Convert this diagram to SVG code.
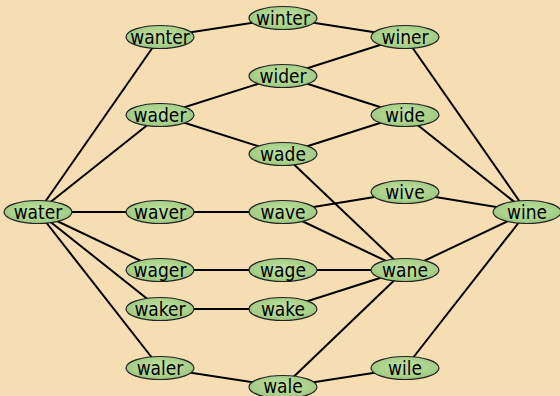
<svg xmlns="http://www.w3.org/2000/svg" width="560" height="396" viewBox="0 0 560 396">
  <defs>
    <radialGradient id="nodeFill" cx="50%" cy="45%" r="60%">
      <stop offset="0%" stop-color="#bfe0a0"/>
      <stop offset="70%" stop-color="#a8d08a"/>
      <stop offset="100%" stop-color="#92bd76"/>
    </radialGradient>
  </defs>
  <style>
    .node ellipse { fill: url(#nodeFill); stroke: #222; stroke-width: 1.2; }
    .node text { font-family: "DejaVu Sans Condensed", "DejaVu Sans", sans-serif; font-stretch: condensed; font-size: 19px; fill: #000; text-anchor: middle; dominant-baseline: central; }
    #edges line { stroke: #000; stroke-width: 2; }
  </style>
  <rect width="560" height="396" fill="#f5deb3"/>
  <g id="edges">
    <line x1="38" y1="212" x2="160" y2="37"/>
    <line x1="38" y1="212" x2="160" y2="115"/>
    <line x1="38" y1="212" x2="160" y2="212"/>
    <line x1="38" y1="212" x2="160" y2="270"/>
    <line x1="38" y1="212" x2="160" y2="309"/>
    <line x1="38" y1="212" x2="160" y2="368"/>
    <line x1="160" y1="37" x2="283" y2="18"/>
    <line x1="283" y1="18" x2="405" y2="37"/>
    <line x1="283" y1="76" x2="405" y2="37"/>
    <line x1="405" y1="37" x2="527" y2="212"/>
    <line x1="160" y1="115" x2="283" y2="76"/>
    <line x1="160" y1="115" x2="283" y2="154"/>
    <line x1="283" y1="76" x2="405" y2="115"/>
    <line x1="283" y1="154" x2="405" y2="115"/>
    <line x1="405" y1="115" x2="527" y2="212"/>
    <line x1="283" y1="154" x2="405" y2="270"/>
    <line x1="160" y1="212" x2="283" y2="212"/>
    <line x1="283" y1="212" x2="405" y2="192"/>
    <line x1="283" y1="212" x2="405" y2="270"/>
    <line x1="405" y1="192" x2="527" y2="212"/>
    <line x1="160" y1="270" x2="283" y2="270"/>
    <line x1="283" y1="270" x2="405" y2="270"/>
    <line x1="160" y1="309" x2="283" y2="309"/>
    <line x1="283" y1="309" x2="405" y2="270"/>
    <line x1="405" y1="270" x2="527" y2="212"/>
    <line x1="160" y1="368" x2="283" y2="387"/>
    <line x1="283" y1="387" x2="405" y2="270"/>
    <line x1="283" y1="387" x2="405" y2="368"/>
    <line x1="405" y1="368" x2="527" y2="212"/>
  </g>
  <g id="water" class="node"><ellipse cx="38" cy="212" rx="34" ry="11.5"/><text x="38" y="212">water</text></g>
  <g id="wanter" class="node"><ellipse cx="160" cy="37" rx="34" ry="11.5"/><text x="160" y="37">wanter</text></g>
  <g id="winter" class="node"><ellipse cx="283" cy="18" rx="34" ry="11.5"/><text x="283" y="18">winter</text></g>
  <g id="winer" class="node"><ellipse cx="405" cy="37" rx="34" ry="11.5"/><text x="405" y="37">winer</text></g>
  <g id="wider" class="node"><ellipse cx="283" cy="76" rx="34" ry="11.5"/><text x="283" y="76">wider</text></g>
  <g id="wader" class="node"><ellipse cx="160" cy="115" rx="34" ry="11.5"/><text x="160" y="115">wader</text></g>
  <g id="wide" class="node"><ellipse cx="405" cy="115" rx="34" ry="11.5"/><text x="405" y="115">wide</text></g>
  <g id="wade" class="node"><ellipse cx="283" cy="154" rx="34" ry="11.5"/><text x="283" y="154">wade</text></g>
  <g id="wive" class="node"><ellipse cx="405" cy="192" rx="34" ry="11.5"/><text x="405" y="192">wive</text></g>
  <g id="waver" class="node"><ellipse cx="160" cy="212" rx="34" ry="11.5"/><text x="160" y="212">waver</text></g>
  <g id="wave" class="node"><ellipse cx="283" cy="212" rx="34" ry="11.5"/><text x="283" y="212">wave</text></g>
  <g id="wine" class="node"><ellipse cx="527" cy="212" rx="34" ry="11.5"/><text x="527" y="212">wine</text></g>
  <g id="wager" class="node"><ellipse cx="160" cy="270" rx="34" ry="11.5"/><text x="160" y="270">wager</text></g>
  <g id="wage" class="node"><ellipse cx="283" cy="270" rx="34" ry="11.5"/><text x="283" y="270">wage</text></g>
  <g id="wane" class="node"><ellipse cx="405" cy="270" rx="34" ry="11.5"/><text x="405" y="270">wane</text></g>
  <g id="waker" class="node"><ellipse cx="160" cy="309" rx="34" ry="11.5"/><text x="160" y="309">waker</text></g>
  <g id="wake" class="node"><ellipse cx="283" cy="309" rx="34" ry="11.5"/><text x="283" y="309">wake</text></g>
  <g id="waler" class="node"><ellipse cx="160" cy="368" rx="34" ry="11.5"/><text x="160" y="368">waler</text></g>
  <g id="wale" class="node"><ellipse cx="283" cy="387" rx="34" ry="11.5"/><text x="283" y="386">wale</text></g>
  <g id="wile" class="node"><ellipse cx="405" cy="368" rx="34" ry="11.5"/><text x="405" y="368">wile</text></g>
</svg>
